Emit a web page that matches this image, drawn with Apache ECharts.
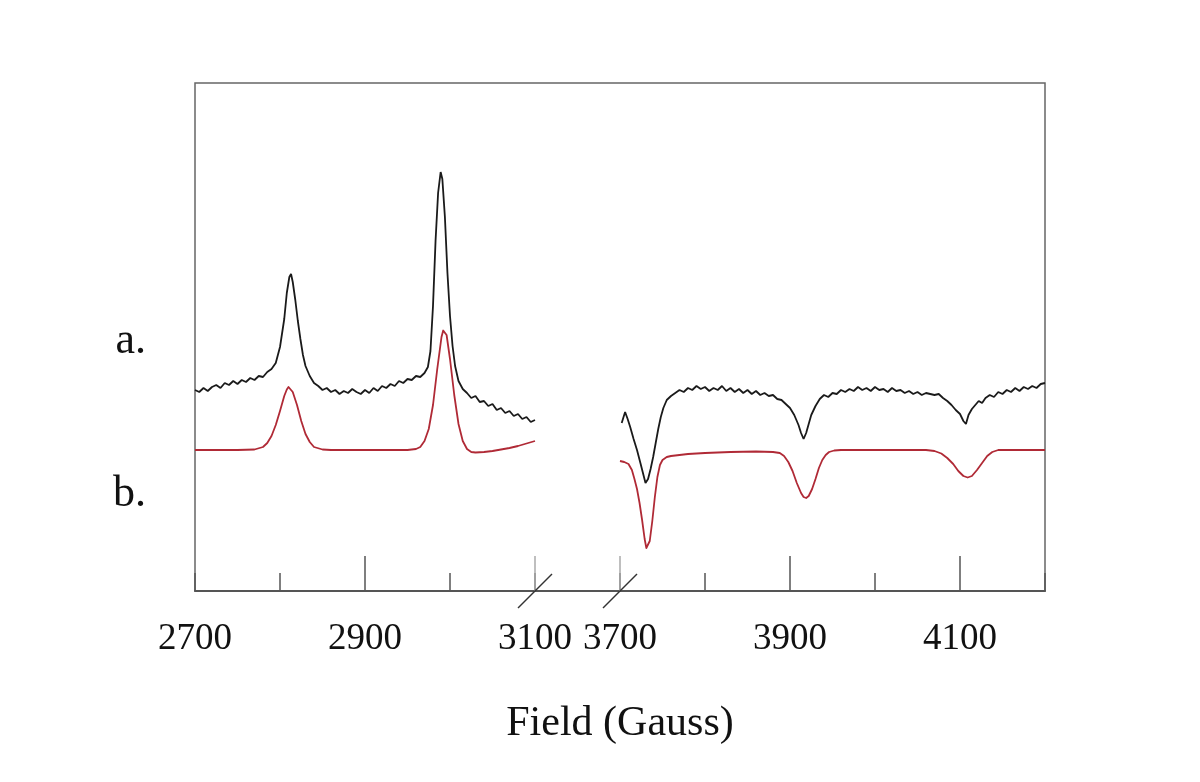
<!DOCTYPE html>
<html>
<head>
<meta charset="utf-8">
<title>Field (Gauss)</title>
<script src="https://cdn.jsdelivr.net/npm/echarts@6/dist/echarts.min.js"></script>
<style>
  html, body { margin: 0; padding: 0; background: #fff; }
  #chart { width: 1200px; height: 782px; }
</style>
</head>
<body>
<div id="chart"></div>
<script>
// broken field axis: 2700-3100 then 3700-4200 (Gauss)
var breakFrom = 3100;
var breakTo = 3700;
var tickLabels = [2700, 2900, 3100, 3700, 3900, 4100];
var majorTicks = [2900, 3900, 4100];
var breakTicks = [3100, 3700];
var traceLabels = [{ text: 'a.', value: 250 }, { text: 'b.', value: 97 }];

// a. measured spectrum, low field part  [field, intensity]
var measLow = [
  [2700, 201], [2705, 199], [2710, 203], [2715, 200], [2720, 204], [2725, 206], [2730, 203],
  [2735, 208], [2740, 206], [2745, 210], [2750, 207], [2755, 211], [2760, 209], [2765, 213],
  [2770, 211], [2775, 215], [2780, 214], [2785, 219], [2790, 222], [2795, 228], [2800, 244],
  [2805, 272], [2808, 298], [2811, 314], [2813, 317], [2815, 309], [2818, 291], [2821, 270],
  [2824, 252], [2827, 236], [2830, 225], [2835, 215], [2840, 208], [2845, 205], [2850, 201],
  [2855, 203], [2860, 199], [2865, 201], [2870, 197], [2875, 200], [2880, 198], [2885, 202],
  [2890, 199], [2895, 197], [2900, 201], [2905, 198], [2910, 203], [2915, 200], [2920, 205],
  [2925, 203], [2930, 207], [2935, 205], [2940, 210], [2945, 208], [2950, 212], [2955, 211],
  [2960, 215], [2965, 214], [2970, 218], [2974, 224], [2977, 240], [2980, 285], [2983, 350],
  [2986, 398], [2989, 419], [2991, 412], [2994, 374], [2997, 318], [3000, 275], [3003, 245],
  [3006, 225], [3010, 210], [3015, 202], [3020, 198], [3025, 193], [3030, 195], [3035, 189],
  [3040, 190], [3045, 185], [3050, 187], [3055, 181], [3060, 183], [3065, 178], [3070, 180],
  [3075, 175], [3080, 177], [3085, 172], [3090, 174], [3095, 169], [3100, 171]
];

// a. measured spectrum, high field part
var measHigh = [
  [3702, 168], [3706, 179], [3709, 172], [3712, 164], [3716, 152], [3720, 141], [3724, 128],
  [3727, 118], [3730, 108], [3733, 112], [3736, 122], [3739, 134], [3742, 148], [3745, 162],
  [3748, 174], [3751, 183], [3755, 191], [3760, 195], [3765, 198], [3770, 201], [3775, 199],
  [3780, 203], [3785, 201], [3790, 205], [3795, 202], [3800, 204], [3805, 200], [3810, 203],
  [3815, 201], [3820, 205], [3825, 200], [3830, 203], [3835, 199], [3840, 202], [3845, 198],
  [3850, 201], [3855, 197], [3860, 200], [3865, 196], [3870, 198], [3875, 195], [3880, 196],
  [3885, 192], [3890, 191], [3895, 187], [3900, 183], [3905, 176], [3910, 166], [3913, 158],
  [3916, 152], [3919, 158], [3922, 167], [3925, 176], [3930, 185], [3935, 192], [3940, 196],
  [3945, 194], [3950, 198], [3955, 197], [3960, 201], [3965, 199], [3970, 202], [3975, 200],
  [3980, 204], [3985, 201], [3990, 203], [3995, 200], [4000, 204], [4005, 201], [4010, 202],
  [4015, 199], [4020, 203], [4025, 200], [4030, 201], [4035, 198], [4040, 200], [4045, 197],
  [4050, 199], [4055, 196], [4060, 198], [4065, 197], [4070, 196], [4075, 197], [4080, 193],
  [4085, 190], [4090, 186], [4095, 181], [4100, 177], [4104, 170], [4107, 167], [4110, 176],
  [4114, 182], [4118, 186], [4122, 190], [4126, 188], [4130, 193], [4135, 196], [4140, 194],
  [4145, 199], [4150, 197], [4155, 201], [4160, 199], [4165, 203], [4170, 200], [4175, 204],
  [4180, 202], [4185, 205], [4190, 203], [4195, 207], [4200, 208]
];

// b. simulated spectrum
var simLow = [
  [2700, 141], [2750, 141], [2770, 141.5], [2780, 144], [2785, 148], [2790, 155], [2795, 166],
  [2800, 180], [2805, 195], [2808, 201.5], [2810, 204], [2812, 203.5], [2815, 199], [2820, 186],
  [2825, 170], [2830, 157], [2835, 149], [2840, 144], [2850, 141.5], [2860, 141], [2950, 141],
  [2960, 142], [2965, 144], [2970, 150], [2975, 162], [2980, 186], [2985, 222], [2990, 254],
  [2992, 260.5], [2994, 261.5], [2996, 256], [3000, 232], [3005, 196], [3010, 167], [3015, 150],
  [3020, 142], [3025, 139], [3030, 138.5], [3040, 139], [3050, 140], [3060, 141.5], [3070, 143],
  [3080, 145], [3090, 147.5], [3100, 150]
];
var simHigh = [
  [3700, 130], [3705, 129], [3710, 127], [3714, 121], [3717, 112], [3720, 102], [3723, 88],
  [3726, 71], [3729, 52], [3731, 43], [3733, 42], [3735, 50], [3738, 70], [3741, 94], [3744, 114],
  [3747, 126], [3750, 131], [3755, 134], [3760, 135], [3770, 136], [3780, 137], [3800, 138],
  [3830, 139], [3860, 139.5], [3880, 139], [3888, 138], [3893, 135], [3898, 129], [3903, 120],
  [3908, 108], [3913, 98], [3916, 94], [3919, 93], [3922, 95], [3926, 102], [3930, 112], [3934, 123],
  [3938, 131], [3942, 136], [3946, 139], [3952, 140.5], [3960, 141], [4060, 141], [4070, 140],
  [4078, 137.5], [4085, 133], [4092, 127], [4098, 120], [4104, 115], [4109, 113.5], [4114, 115],
  [4120, 121], [4126, 128], [4132, 135], [4138, 139], [4145, 141], [4200, 141]
];

// field value -> position on the compressed axis
function toAxis(g) {
  return g <= breakFrom ? g : g - (breakTo - breakFrom) + 100;
}
function fromAxis(v) {
  return v <= breakFrom ? v : v + (breakTo - breakFrom) - 100;
}
function mapped(list) {
  return list.map(function (p) { return [toAxis(p[0]), p[1]]; });
}

var serif = 'Liberation Serif';
var axisColor = '#555';
var blackLine = '#1a1a1a';
var redLine = '#b02a36';

var chart = echarts.init(document.getElementById('chart'));

function baseX(extra) {
  var ax = {
    type: 'value',
    gridIndex: 0,
    position: 'bottom',
    min: toAxis(2700),
    max: toAxis(4200),
    interval: 100,
    splitLine: { show: false },
    axisLine: { show: false },
    axisLabel: { show: false },
    axisTick: { show: false }
  };
  for (var k in extra) ax[k] = extra[k];
  return ax;
}

var option = {
  backgroundColor: '#fff',
  animation: false,
  grid: {
    left: 195, right: 155, top: 83, bottom: 191,
    show: true,
    borderColor: '#666',
    borderWidth: 1.5
  },
  xAxis: [
    baseX({
      name: 'Field (Gauss)',
      nameLocation: 'middle',
      nameGap: 112,
      nameTextStyle: { fontFamily: serif, fontSize: 42, color: '#111' },
      axisLine: { show: true, lineStyle: { color: axisColor, width: 2 } },
      axisTick: { show: true, inside: true, length: 18, lineStyle: { color: axisColor, width: 1.5 } },
      axisLabel: {
        show: true,
        margin: 30,
        fontFamily: serif,
        fontSize: 37,
        color: '#111',
        customValues: tickLabels.map(toAxis),
        formatter: function (v) { return String(fromAxis(v)); }
      }
    }),
    baseX({
      axisTick: {
        show: true, inside: true, length: 35,
        customValues: majorTicks.map(toAxis),
        lineStyle: { color: axisColor, width: 1.5 }
      }
    }),
    baseX({
      axisTick: {
        show: true, inside: true, length: 35,
        customValues: breakTicks.map(toAxis),
        lineStyle: { color: '#aaa', width: 1.5 }
      }
    })
  ],
  yAxis: {
    type: 'value',
    min: 0,
    max: 508,
    splitLine: { show: false },
    axisLine: { show: false },
    axisTick: { show: false },
    axisLabel: {
      margin: 49,
      fontFamily: serif,
      fontSize: 44,
      color: '#111',
      customValues: traceLabels.map(function (d) { return d.value; }),
      formatter: function (v) {
        for (var i = 0; i < traceLabels.length; i++) {
          if (traceLabels[i].value === v) return traceLabels[i].text;
        }
        return '';
      }
    }
  },
  series: [
    { type: 'line', data: mapped(measLow), showSymbol: false, lineStyle: { color: blackLine, width: 1.8 } },
    { type: 'line', data: mapped(measHigh), showSymbol: false, lineStyle: { color: blackLine, width: 1.8 } },
    { type: 'line', data: mapped(simLow), showSymbol: false, lineStyle: { color: redLine, width: 1.8, join: 'round' } },
    { type: 'line', data: mapped(simHigh), showSymbol: false, lineStyle: { color: redLine, width: 1.8, join: 'round' } },
    {
      // break marks on the axis
      type: 'custom',
      data: breakTicks.map(function (g) { return [toAxis(g), 0]; }),
      clip: false,
      silent: true,
      renderItem: function (params, api) {
        var pt = api.coord([api.value(0), api.value(1)]);
        return {
          type: 'line',
          shape: { x1: pt[0] - 17, y1: pt[1] + 17, x2: pt[0] + 17, y2: pt[1] - 17 },
          style: { stroke: '#333', lineWidth: 1.5 }
        };
      }
    }
  ]
};

chart.setOption(option);
</script>
</body>
</html>
